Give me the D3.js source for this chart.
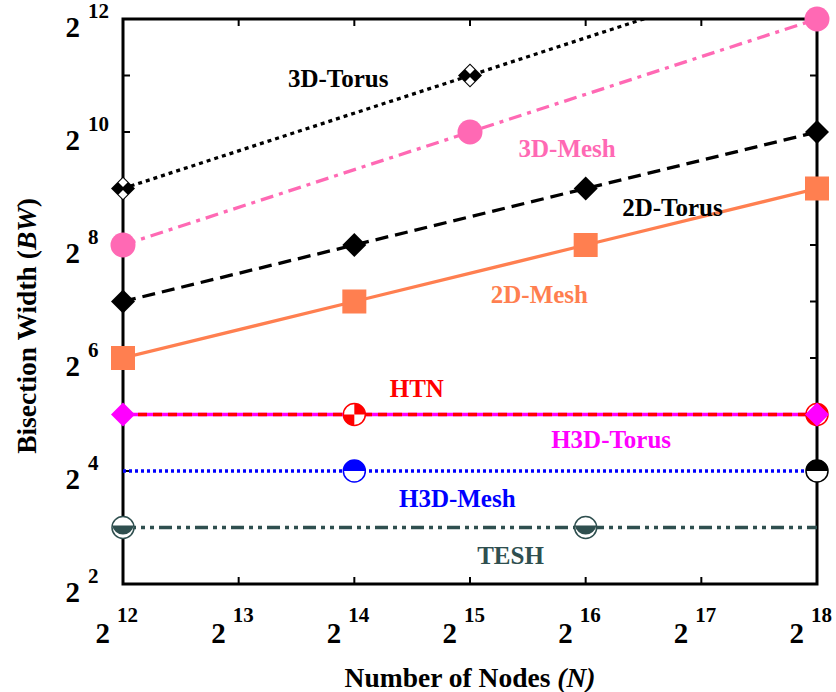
<!DOCTYPE html>
<html>
<head>
<meta charset="utf-8">
<script src="https://cdn.jsdelivr.net/npm/d3@7"></script>
<style>
  body { margin: 0; background: #fff; }
  text { font-family: "Liberation Serif", "Times New Roman", serif; font-weight: bold; }
</style>
</head>
<body>
<svg id="chart" width="836" height="692"></svg>
<script>
// ---- data (x = number of nodes, y = bisection width) ----
const nodes3D   = [4096, 32768, 262144];
const torus3D   = [512, 2048, 8192];
const mesh3D    = [256, 1024, 4096];
const nodes2D   = [4096, 16384, 65536, 262144];
const torus2D   = [128, 256, 512, 1024];
const mesh2D    = [64, 128, 256, 512];
const nodesH    = [4096, 16384, 65536, 262144];
const htnBW     = [32, 32, 32, 32];
const h3dTorus  = [32, 32, 32, 32];
const h3dMesh   = [16, 16, 16, 16];
const teshBW    = [8, 8, 8, 8];

// which node counts carry a marker
const htnMarks      = [16384, 262144];
const h3dTorusMarks = [4096, 262144];
const h3dMeshMarks  = [16384];
const extraMarks    = [262144];   // black half circle on H3D-Mesh line
const teshMarks     = [4096, 65536];

const xTicks = [4096, 8192, 16384, 32768, 65536, 131072, 262144];
const yTicks = [4, 8, 16, 32, 64, 128, 256, 512, 1024, 2048, 4096];
const yLabelTicks = [4, 16, 64, 256, 1024, 4096];

const xTitle = "Number of Nodes";
const yTitle = "Bisection Width";

// label anchor (in data units) for each series name
const labelNames = ["3D-Torus", "3D-Mesh", "2D-Torus", "2D-Mesh", "HTN", "H3D-Torus", "H3D-Mesh", "TESH"];
const labelN     = [2 ** 13.86, 2 ** 15.84, 2 ** 16.75, 2 ** 15.6, 2 ** 14.54, 2 ** 16.22, 2 ** 14.89, 2 ** 15.35];
const labelBW    = [2 ** 10.8, 2 ** 9.56, 2 ** 8.51, 2 ** 6.97, 2 ** 5.31, 2 ** 4.41, 2 ** 3.36, 2 ** 2.35];

// ---- layout ----
const margin = {top: 19, right: 19, bottom: 108, left: 123};
const width = 836 - margin.left - margin.right;
const height = 692 - margin.top - margin.bottom;

const svg = d3.select("#chart");

const x = d3.scaleLog().base(2).domain([4096, 262144]).range([0, width]);
const y = d3.scaleLog().base(2).domain([4, 4096]).range([height, 0]);

const g = svg.append("g").attr("transform", `translate(${margin.left},${margin.top})`);

svg.append("defs").append("clipPath").attr("id", "plotClip")
  .append("rect").attr("width", width).attr("height", height);

// series definitions
const series = [
  {name: "3D-Torus", nodes: nodes3D, bw: torus3D, color: "#000", dash: "4,4", marks: nodes3D, marker: "check"},
  {name: "3D-Mesh", nodes: nodes3D, bw: mesh3D, color: "#ff69b4", dash: "13,6,4,6", marks: nodes3D, marker: "circle"},
  {name: "2D-Torus", nodes: nodes2D, bw: torus2D, color: "#000", dash: "13,7", marks: nodes2D, marker: "diamond"},
  {name: "2D-Mesh", nodes: nodes2D, bw: mesh2D, color: "#ff7f50", dash: null, marks: nodes2D, marker: "square"},
  {name: "H3D-Torus", nodes: nodesH, bw: h3dTorus, color: "#ff00ff", dash: null, marks: [], marker: "diamond"},
  {name: "HTN", nodes: nodesH, bw: htnBW, color: "#ff0000", dash: "9,6", marks: htnMarks, marker: "quarter"},
  {name: "H3D-Mesh", nodes: nodesH, bw: h3dMesh, color: "#0000ff", dash: "3,3", marks: h3dMeshMarks, marker: "half"},
  {name: "", nodes: [], bw: [], color: "#000", dash: null, marks: extraMarks, marker: "half", markBW: 16},
  {name: "TESH", nodes: nodesH, bw: teshBW, color: "#2f4f4f", dash: "13,5,4,5,4,5", marks: teshMarks, marker: "tesh"},
  {name: "H3D-Torus-m", nodes: [], bw: [], color: "#ff00ff", dash: null, marks: h3dTorusMarks, marker: "diamond", markBW: 32}
];

// ---- frame + ticks ----
const frame = g.append("g").attr("class", "frame");
const tickLen = 7;

frame.selectAll(".xt").data(xTicks).enter().append("g").each(function (d) {
  const gx = d3.select(this);
  gx.append("line").attr("x1", x(d)).attr("x2", x(d)).attr("y1", height).attr("y2", height - tickLen);
  gx.append("line").attr("x1", x(d)).attr("x2", x(d)).attr("y1", 0).attr("y2", tickLen);
}).selectAll("line").attr("stroke", "#000").attr("stroke-width", 2);

frame.selectAll(".yt").data(yTicks).enter().append("g").each(function (d) {
  const gy = d3.select(this);
  gy.append("line").attr("x1", 0).attr("x2", tickLen).attr("y1", y(d)).attr("y2", y(d));
  gy.append("line").attr("x1", width).attr("x2", width - tickLen).attr("y1", y(d)).attr("y2", y(d));
}).selectAll("line").attr("stroke", "#000").attr("stroke-width", 2);

frame.append("rect")
  .attr("width", width).attr("height", height)
  .attr("fill", "none").attr("stroke", "#000").attr("stroke-width", 3);

// tick labels: 2 with superscript exponent
const xl = g.append("g").selectAll("g").data(xTicks).enter().append("g")
  .attr("transform", d => `translate(${x(d)},${height})`);
xl.append("text").attr("x", -13).attr("y", 59).attr("text-anchor", "end")
  .style("font-size", "29px").text("2");
xl.append("text").attr("x", -6).attr("y", 38)
  .style("font-size", "21px").text(d => Math.round(Math.log2(d)));

const yl = g.append("g").selectAll("g").data(yLabelTicks).enter().append("g")
  .attr("transform", d => `translate(0,${y(d)})`);
yl.append("text").attr("x", -43).attr("y", 18).attr("text-anchor", "end")
  .style("font-size", "29px").text("2");
yl.append("text").attr("x", -35).attr("y", -1)
  .style("font-size", "21px").text(d => Math.round(Math.log2(d)));

// axis titles
const xt = svg.append("text")
  .attr("x", margin.left + 347).attr("y", 687)
  .attr("text-anchor", "middle").style("font-size", "27.5px");
xt.append("tspan").text(xTitle + " ");
xt.append("tspan").style("font-style", "italic").text("(N)");

const yt = svg.append("text")
  .attr("transform", `translate(36,326) rotate(-90)`)
  .attr("text-anchor", "middle").style("font-size", "27.5px");
yt.append("tspan").text(yTitle + " (");
yt.append("tspan").style("font-style", "italic").text("BW");
yt.append("tspan").text(")");

// ---- lines ----
const line = d3.line().x(d => x(d[0])).y(d => y(d[1]));
const lines = g.append("g").attr("clip-path", "url(#plotClip)");

series.filter(s => s.nodes.length).forEach(s => {
  lines.append("path")
    .datum(d3.zip(s.nodes, s.bw))
    .attr("d", line)
    .attr("fill", "none")
    .attr("stroke", s.color)
    .attr("stroke-width", 3.3)
    .attr("stroke-dasharray", s.dash);
});

// ---- markers ----
const markers = g.append("g");

function drawMarker(sel, type, color) {
  const r = 11;
  if (type === "circle") {
    sel.append("circle").attr("r", 12.5).attr("fill", color);
  } else if (type === "square") {
    sel.append("rect").attr("x", -12).attr("y", -12).attr("width", 24).attr("height", 24).attr("fill", color);
  } else if (type === "diamond") {
    sel.append("path").attr("d", "M0,-12L12,0L0,12L-12,0Z").attr("fill", color);
  } else if (type === "check") {
    const h = 12;
    sel.append("path").attr("d", `M0,-${h}L${h},0L0,${h}L-${h},0Z`).attr("fill", color);
    const w = h / 2 - 1.5;
    sel.append("path").attr("d", `M0,-${h / 2 + w}L${w},-${h / 2}L0,-${h / 2 - w}L-${w},-${h / 2}Z`).attr("fill", "#fff");
    sel.append("path").attr("d", `M0,${h / 2 + w}L${w},${h / 2}L0,${h / 2 - w}L-${w},${h / 2}Z`).attr("fill", "#fff");
  } else if (type === "quarter") {
    sel.append("circle").attr("r", r).attr("fill", "#fff");
    const arc = d3.arc().innerRadius(0).outerRadius(r);
    sel.append("path").attr("d", arc({startAngle: 0, endAngle: Math.PI / 2})).attr("fill", color);
    sel.append("path").attr("d", arc({startAngle: Math.PI, endAngle: Math.PI * 1.5})).attr("fill", color);
    sel.append("circle").attr("r", r).attr("fill", "none").attr("stroke", color).attr("stroke-width", 1.5);
  } else if (type === "half") {
    sel.append("circle").attr("r", r).attr("fill", "#fff");
    sel.append("path").attr("d", `M-${r},0A${r},${r} 0 0 1 ${r},0Z`).attr("fill", color);
    sel.append("circle").attr("r", r).attr("fill", "none").attr("stroke", color).attr("stroke-width", 1.5);
  } else if (type === "tesh") {
    sel.append("circle").attr("r", r).attr("fill", "#fff");
    const yy = -2, xx = Math.sqrt(r * r - yy * yy);
    sel.append("path").attr("d", `M-${xx},${yy}L${xx},${yy}A${r},${r} 0 0 1 -${xx},${yy}Z`).attr("fill", color);
    sel.append("circle").attr("r", r).attr("fill", "none").attr("stroke", color).attr("stroke-width", 1.5);
  }
}

series.forEach(s => {
  s.marks.forEach(n => {
    const i = s.nodes.indexOf(n);
    const v = i >= 0 ? s.bw[i] : s.markBW;
    if (v > y.domain()[1]) return;
    const m = markers.append("g").attr("transform", `translate(${x(n)},${y(v)})`);
    drawMarker(m, s.marker, s.color);
  });
});

// ---- series labels ----
const labelColors = ["#000", "#ff69b4", "#000", "#ff7f50", "#ff0000", "#ff00ff", "#0000ff", "#2f4f4f"];
g.append("g").selectAll("text").data(labelNames).enter().append("text")
  .attr("x", (d, i) => x(labelN[i]))
  .attr("y", (d, i) => y(labelBW[i]))
  .attr("text-anchor", "middle")
  .attr("fill", (d, i) => labelColors[i])
  .style("font-size", "25px")
  .text(d => d);
</script>
</body>
</html>
